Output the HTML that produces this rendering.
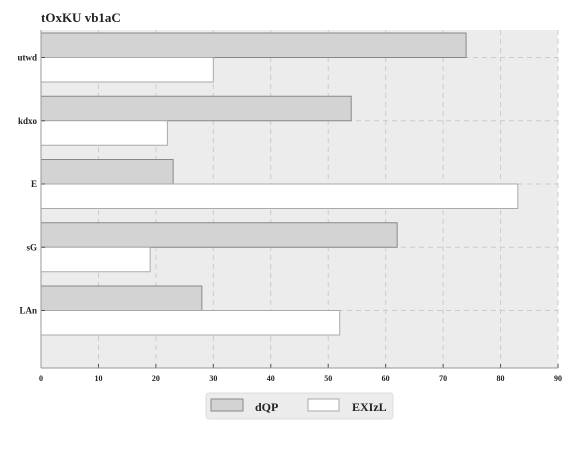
<!DOCTYPE html>
<html><head><style>
body{margin:0;background:#fff;}
svg text{font-family:"Liberation Serif",serif;font-weight:bold;fill:#222;}
</style></head><body>
<svg width="576" height="448">
<text x="41" y="22" font-size="13">tOxKU vb1aC</text>
<rect x="41" y="30" width="517" height="338" fill="#ececec"/>
<g id="grid"></g>
<g id="bars"></g>
<g id="axes"></g>
<g>
<rect x="206" y="393" width="187" height="26" rx="3" fill="#ececec" stroke="#ddd"/>
<rect x="211" y="399" width="32" height="12" fill="#d3d3d3" stroke="#888"/>
<text x="255" y="411" font-size="12">dQP</text>
<rect x="308" y="399" width="31" height="12" fill="#fff" stroke="#aaa"/>
<text x="352" y="411" font-size="12">EXIzL</text>
</g>
</svg>
<script>
const categories=["utwd","kdxo","E","sG","LAn"];
const dQP=[74,54,23,62,28];
const EXIzL=[30,22,83,19,52];
const xTicks=[0,10,20,30,40,50,60,70,80,90];
const NS="http://www.w3.org/2000/svg";
const X0=41,X1=558,Y0=30,Y1=368;
const x=v=>X0+(v-0)/(90-0)*(X1-X0);
const yc=i=>57.5+i*63.25;
function mk(tag,attrs,parent){const e=document.createElementNS(NS,tag);for(const k in attrs)e.setAttribute(k,attrs[k]);document.getElementById(parent).appendChild(e);return e;}
xTicks.forEach(t=>{
 const l=mk('line',{x1:x(t),x2:x(t),y1:Y0,y2:Y1,stroke:'#ccc','stroke-dasharray':'5,4'},'grid');
 
 
 const tk=mk('line',{x1:x(t),x2:x(t),y1:Y1,y2:Y1-4,stroke:'#555'},'axes');
 
 
 const tx=mk('text',{x:x(t),y:Y1+13,'font-size':'8','text-anchor':'middle'},'axes');
 tx.textContent=t;
 
 
});
categories.forEach((c,i)=>{
 const g=mk('line',{x1:X0,x2:X1,y1:yc(i),y2:yc(i),stroke:'#ccc','stroke-dasharray':'5,4'},'grid');
 
 
 const b1=mk('rect',{x:X0,y:yc(i)-24.5,width:x(dQP[i])-X0,height:24.5,fill:'#d3d3d3',stroke:'#888'},'bars');
 
 
 const b2=mk('rect',{x:X0,y:yc(i),width:x(EXIzL[i])-X0,height:24.5,fill:'#fff',stroke:'#aaa'},'bars');
 
 
 const tk=mk('line',{x1:X0,x2:X0+4,y1:yc(i),y2:yc(i),stroke:'#555'},'axes');
 
 
 const tx=mk('text',{x:X0-4,y:yc(i)+3,'font-size':'9','text-anchor':'end'},'axes');
 tx.textContent=c;
 
 
});
const ax=mk('line',{x1:X0,x2:X0,y1:Y0,y2:Y1,stroke:'#999'},'axes');


const bx=mk('line',{x1:X0,x2:X1,y1:Y1,y2:Y1,stroke:'#999'},'axes');


</script>
</body></html>
